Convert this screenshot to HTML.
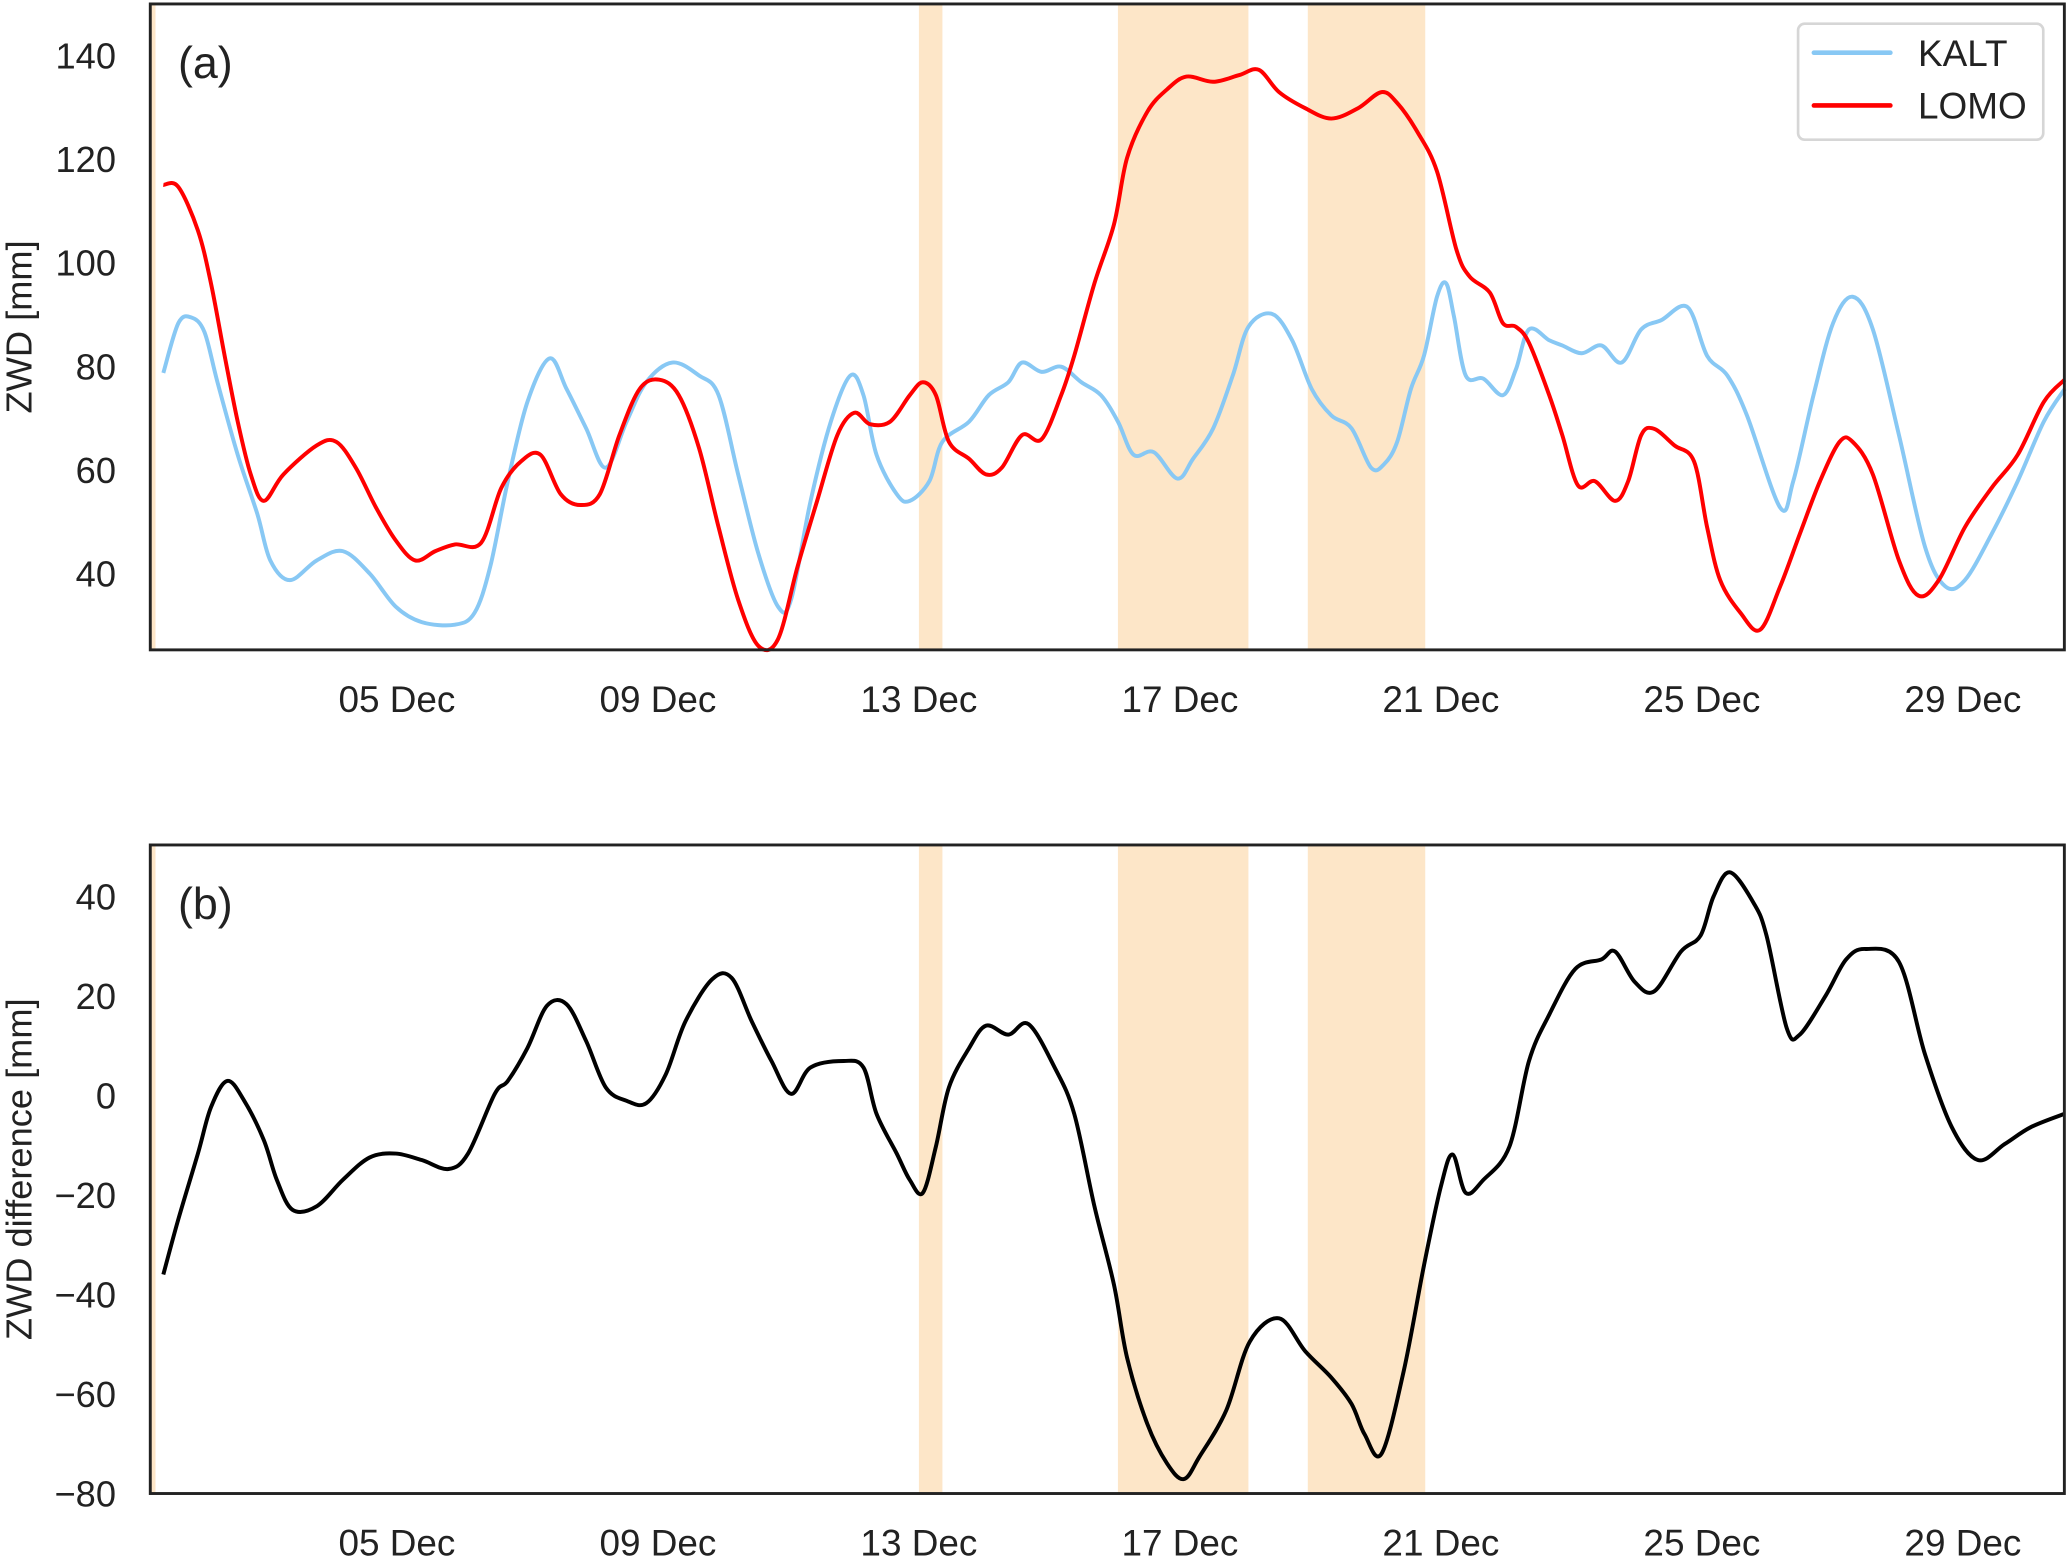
<!DOCTYPE html>
<html><head><meta charset="utf-8"><style>
html,body{margin:0;padding:0;background:#fff;}
svg{display:block;font-family:"Liberation Sans",Arial,sans-serif;}
</style></head><body>
<svg id="chart" width="2067" height="1556" viewBox="0 0 1568 1180.4" preserveAspectRatio="none" xmlns="http://www.w3.org/2000/svg">
<g id="pa"></g>
<g id="pb"></g>
</svg>
<script>
const shadeSpans=[[1.22,1.3],[13.0,13.36],[16.05,18.05],[18.96,20.76]];
const xTickDays=[5,9,13,17,21,25,29];
const xTickLabels=["05 Dec","09 Dec","13 Dec","17 Dec","21 Dec","25 Dec","29 Dec"];
const yTicksA=[40,60,80,100,120,140];
const yTicksB=[-80,-60,-40,-20,0,20,40];
const kaltDays=[1.42,1.65,1.85,2.05,2.25,2.56,2.86,3.06,3.36,3.77,4.17,4.58,4.98,5.38,5.89,6.19,6.43,6.7,7.0,7.34,7.6,7.9,8.2,8.52,8.82,9.22,9.63,9.93,10.23,10.54,10.84,11.04,11.34,11.65,11.95,12.15,12.35,12.66,12.86,13.16,13.36,13.77,14.07,14.37,14.58,14.88,15.18,15.49,15.79,16.05,16.29,16.6,16.96,17.2,17.51,17.81,18.05,18.41,18.72,19.02,19.32,19.63,19.93,20.13,20.33,20.54,20.74,20.94,21.08,21.2,21.38,21.65,21.95,22.15,22.35,22.66,22.86,23.16,23.46,23.77,24.07,24.38,24.78,25.08,25.39,25.69,26.2,26.4,26.71,27.01,27.31,27.62,28.02,28.42,28.73,29.03,29.44,29.84,30.24,30.56];
const kaltVals=[78.7,88.3,89.4,86.6,76.9,62.9,51.5,42.5,38.7,42.5,44.3,40,33.6,30.6,30.1,32.4,41.3,57.8,73.1,81.5,75.6,68,60.4,69.3,76.9,80.7,78.2,74.4,59.1,43.8,33.6,34.9,54,69.3,78.2,74.4,62.9,55.3,54,57.8,65.4,69.3,74.4,76.9,80.7,78.9,79.9,76.9,74.4,69.3,62.9,63.4,58.3,62.1,68,78.2,87.6,90.1,85,75.6,70.5,68,60.4,61.1,65.4,75.6,82,93.4,96,89.6,78.2,77.6,74.4,79.4,87.1,85,84,82.5,84,80.7,87.1,88.9,91.4,82,78.2,70.5,52.7,57.8,74.4,88.3,93.4,87.1,66.7,45.1,37.5,38.7,47.6,57.8,69.3,75.6];
const lomoDays=[1.42,1.65,1.95,2.15,2.36,2.56,2.76,2.96,3.26,3.77,4.07,4.37,4.68,4.98,5.28,5.59,5.89,6.29,6.6,6.9,7.2,7.51,7.81,8.11,8.41,8.72,9.02,9.32,9.63,9.93,10.23,10.54,10.84,11.14,11.44,11.75,12.01,12.25,12.56,12.86,13.06,13.26,13.46,13.77,14.03,14.27,14.58,14.88,15.18,15.38,15.69,15.99,16.19,16.5,16.8,17.1,17.51,17.91,18.21,18.52,18.92,19.32,19.73,20.09,20.33,20.64,20.94,21.24,21.44,21.75,21.95,22.15,22.35,22.66,22.86,23.1,23.36,23.67,23.87,24.07,24.27,24.58,24.88,25.08,25.28,25.59,25.89,26.2,26.5,26.81,27.11,27.31,27.62,28.02,28.32,28.63,29.03,29.44,29.84,30.24,30.56];
const lomoVals=[115,114.6,106.2,96,82,69.3,59.1,54,59.1,64.7,65.4,60.4,52.7,46.4,42.5,44.3,45.6,45.9,56.5,61.6,62.9,55.3,53.2,55.3,66.7,75.6,77.4,74.4,64.2,48.9,34.9,26,27.3,41.3,54,66.7,71,68.8,69.3,74.4,76.9,74.4,65.4,62.1,59.1,60.4,66.7,65.9,74.4,82,96,107.4,120.2,129.1,133.4,135.9,134.9,136.2,137.2,132.9,129.8,127.8,129.8,132.9,130.8,125.2,117.6,102.4,97.3,94.2,88.3,87.6,84.5,74.4,66.7,57,57.8,54,57.8,66.7,67.9,64.7,61.6,48.9,38.7,32.4,29.1,37.5,47.6,57.8,65.4,65.4,59.1,42.5,35.7,38.7,48.9,56.5,62.9,73.1,77.4];
const diffDays=[1.42,1.65,1.95,2.15,2.4,2.66,2.96,3.16,3.4,3.77,4.17,4.58,4.98,5.38,5.79,6.09,6.5,6.7,7,7.3,7.6,7.9,8.2,8.52,8.82,9.12,9.42,9.83,10.13,10.44,10.74,11.04,11.34,11.85,12.15,12.35,12.66,12.86,13.06,13.26,13.46,13.77,14.03,14.37,14.68,15.08,15.38,15.69,15.99,16.19,16.5,16.8,17.06,17.3,17.71,18.07,18.52,18.92,19.32,19.63,19.83,20.09,20.43,20.74,21,21.18,21.38,21.65,22.05,22.35,22.66,23.06,23.46,23.67,23.97,24.27,24.68,24.98,25.18,25.43,25.79,25.99,26.3,26.5,26.9,27.21,27.51,28.02,28.42,28.83,29.23,29.64,30.04,30.56];
const diffVals=[-36,-24.9,-11.7,-2.4,2.9,-1.1,-9,-17,-23,-22.3,-17,-12.5,-11.7,-13,-14.8,-11.7,0.3,2.9,9.5,18,18.3,10.9,1.6,-1.1,-1.6,4.2,14.8,23.3,23.6,14.8,6.9,0.3,5.6,6.9,5.6,-3.7,-11.7,-17,-19.6,-10.3,1.6,9.5,14,12.2,14.3,5.6,-3.7,-22.3,-38.1,-52.7,-66,-73.9,-77.1,-72.6,-63.3,-49.5,-44.8,-51.4,-56.7,-62,-68.1,-72,-55.4,-34.2,-18.3,-11.9,-19.6,-17,-10.3,6.9,16.2,25.4,27.3,28.9,22.8,20.9,28.9,32.1,40,44.8,38.7,32.1,13.5,12.2,20.1,27.3,29.4,26.8,8.2,-6.4,-13,-9.8,-6.4,-3.7];

const NS="http://www.w3.org/2000/svg";
const L=114,R=1566,D0=1.22,D1=30.555;
const x=d=>L+(d-D0)/(D1-D0)*(R-L);
function mk(parent,tag,attrs){const e=document.createElementNS(NS,tag);for(const k in attrs)e.setAttribute(k,attrs[k]);parent.appendChild(e);return e;}
function smoothPath(pts){
  let d='M'+pts[0][0]+','+pts[0][1];
  for(let i=0;i<pts.length-1;i++){
    const p0=pts[Math.max(0,i-1)],p1=pts[i],p2=pts[i+1],p3=pts[Math.min(pts.length-1,i+2)];
    const c1x=p1[0]+(p2[0]-p0[0])/6,c1y=p1[1]+(p2[1]-p0[1])/6;
    const c2x=p2[0]-(p3[0]-p1[0])/6,c2y=p2[1]-(p3[1]-p1[1])/6;
    d+=' C'+c1x+','+c1y+' '+c2x+','+c2y+' '+p2[0]+','+p2[1];
  }
  return d;
}

function panel(g,top,bot,ymin,ymax,yTicks,label,ytitle,series,tag){
  const y=v=>bot-(v-ymin)/(ymax-ymin)*(bot-top);
  shadeSpans.forEach((s,i)=>{
    const r=mk(g,'rect',{x:x(s[0]),y:top,width:x(s[1])-x(s[0]),height:bot-top,fill:'#fde6c8'});
    
    
  });
  series.forEach(s=>{
    const pts=s.days.map((d,i)=>[x(d),y(s.vals[i])]);
    const p=mk(g,'path',{d:smoothPath(pts),fill:'none',stroke:s.color,'stroke-width':3,'stroke-linejoin':'round'});
    
    
  });
  const f=mk(g,'rect',{x:L,y:top,width:R-L,height:bot-top,fill:'none',stroke:'#222','stroke-width':2.2});
  
  
  yTicks.forEach(v=>{
    const t=mk(g,'text',{x:88,y:y(v)+10,'text-anchor':'end','font-size':27.5,fill:'#222'});
    t.textContent=String(v).replace('-','\u2212');
    
    
  });
  xTickDays.forEach((d,i)=>{
    const t=mk(g,'text',{x:x(d),y:bot+47,'text-anchor':'middle','font-size':28,fill:'#222'});
    t.textContent=xTickLabels[i];
    
    
  });
  const pl=mk(g,'text',{x:135,y:top+56,'font-size':34,fill:'#222'});
  pl.textContent=label;
  
  
  const cy=(top+bot)/2;
  const yt=mk(g,'text',{x:24,y:cy,'text-anchor':'middle','font-size':27.5,fill:'#222',transform:'rotate(-90 24 '+cy+')'});
  yt.textContent=ytitle;
  
  
}
const pa=document.getElementById('pa'),pb=document.getElementById('pb');
panel(pa,3,493,25.24,149.92,yTicksA,'(a)','ZWD [mm]',[{days:kaltDays,vals:kaltVals,color:'#88c8f4',name:'kalt-line'},{days:lomoDays,vals:lomoVals,color:'#ff0000',name:'lomo-line'}],'a');
panel(pb,641,1133,-80,50.3,yTicksB,'(b)','ZWD difference [mm]',[{days:diffDays,vals:diffVals,color:'#000',name:'difference-line'}],'b');
const lg=mk(pa,'g',{});


mk(lg,'rect',{x:1364,y:18,width:186,height:88,rx:5,fill:'#fff',stroke:'#d6d6d6','stroke-width':2});
[['KALT','#88c8f4',40],['LOMO','#ff0000',80]].forEach(e=>{
  const gi=mk(lg,'g',{});
  
  
  mk(gi,'line',{x1:1376,x2:1434,y1:e[2],y2:e[2],stroke:e[1],'stroke-width':3.5,'stroke-linecap':'round'});
  const t=mk(gi,'text',{x:1455,y:e[2]+10,'font-size':28,fill:'#222'});t.textContent=e[0];
});
</script>
</body></html>
